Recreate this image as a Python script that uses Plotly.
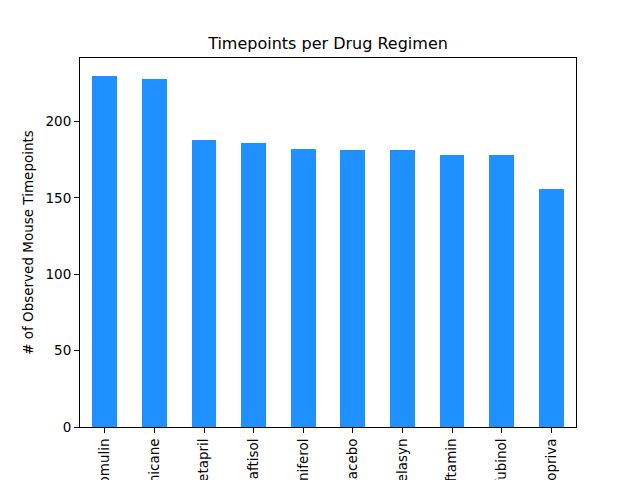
import plotly.graph_objects as go

# Drug regimens, sorted by number of timepoints
regimens = ["Capomulin", "Ramicane", "Ketapril", "Naftisol", "Zoniferol",
            "Placebo", "Stelasyn", "Ceftamin", "Infubinol", "Propriva"]
timepoints = [230, 228, 188, 186, 182, 181, 181, 178, 178, 156]

y_ticks = [0, 50, 100, 150, 200]

fig = go.Figure()

fig.add_trace(go.Bar(
    x=list(range(len(regimens))),
    y=timepoints,
    width=0.5,
    marker_color="#1E90FF",
    marker_line_width=0,
))

axis_style = dict(
    showline=True,
    linecolor="black",
    linewidth=1,
    mirror=True,
    ticks="outside",
    ticklen=5,
    tickcolor="black",
    showgrid=False,
    zeroline=False,
    tickfont=dict(size=13.5, color="black"),
)

# page body adds an 8px offset, so margins are trimmed to match the reference
fig.update_layout(
    width=640,
    height=480,
    margin=dict(l=72, r=72, t=50, b=61, autoexpand=False),
    paper_bgcolor="white",
    plot_bgcolor="white",
    font=dict(family="DejaVu Sans", color="black"),
    title=dict(
        text="Timepoints per Drug Regimen",
        font=dict(size=16),
        x=0.5,
        xanchor="center",
        xref="paper",
        y=1 - 35 / 480,
        yref="container",
        yanchor="middle",
    ),
    showlegend=False,
    bargap=0,
)

fig.update_xaxes(
    axis_style,
    range=[-0.5, len(regimens) - 0.5],
    tickmode="array",
    tickvals=list(range(len(regimens))),
    ticktext=regimens,
    tickangle=-90,
    automargin=False,
)

fig.update_yaxes(
    axis_style,
    range=[0, 241.5],
    tickmode="array",
    tickvals=y_ticks,
    title=dict(text="# of Observed Mouse Timepoints", font=dict(size=13.5), standoff=8),
    automargin=False,
)

fig.write_html("out.html")
